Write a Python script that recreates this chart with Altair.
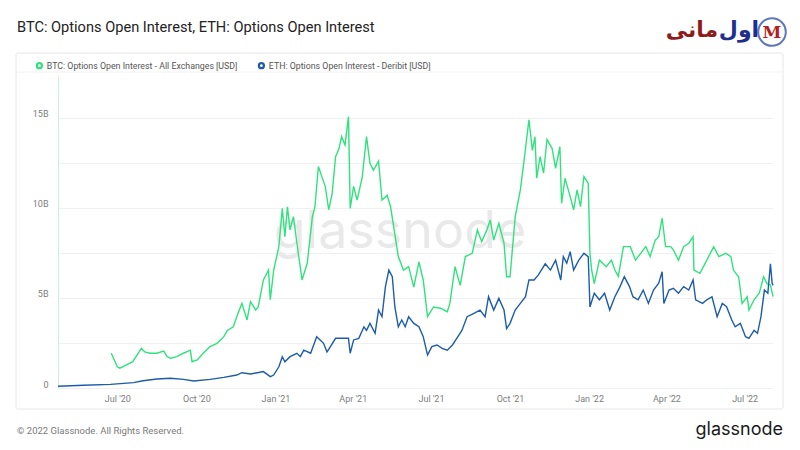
import altair as alt
import pandas as pd

BTC_LABEL = "BTC: Options Open Interest - All Exchanges [USD]"
ETH_LABEL = "ETH: Options Open Interest - Deribit [USD]"

btc_dates = [
    "2020-06-24", "2020-07-01", "2020-07-04", "2020-07-19", "2020-07-29", "2020-08-02", "2020-08-08",
    "2020-08-16", "2020-08-24", "2020-08-28", "2020-09-01", "2020-09-08", "2020-09-16", "2020-09-24",
    "2020-09-26", "2020-10-02", "2020-10-09", "2020-10-17", "2020-10-25", "2020-11-02", "2020-11-06",
    "2020-11-13", "2020-11-17", "2020-11-23", "2020-11-29", "2020-12-03", "2020-12-09", "2020-12-12",
    "2020-12-18", "2020-12-24", "2020-12-26", "2020-12-30", "2021-01-05", "2021-01-09", "2021-01-12",
    "2021-01-15", "2021-01-18", "2021-01-22", "2021-01-26", "2021-02-01", "2021-02-07", "2021-02-13",
    "2021-02-16", "2021-02-20", "2021-02-24", "2021-02-28", "2021-03-04", "2021-03-08", "2021-03-12",
    "2021-03-16", "2021-03-19", "2021-03-23", "2021-03-27", "2021-03-29", "2021-04-02", "2021-04-06",
    "2021-04-12", "2021-04-17", "2021-04-21", "2021-04-25", "2021-05-01", "2021-05-05", "2021-05-11",
    "2021-05-15", "2021-05-18", "2021-05-24", "2021-05-30", "2021-06-05", "2021-06-11", "2021-06-17",
    "2021-06-22", "2021-06-27", "2021-07-04", "2021-07-12", "2021-07-20", "2021-07-23", "2021-07-29",
    "2021-08-04", "2021-08-10", "2021-08-18", "2021-08-24", "2021-08-29", "2021-09-04", "2021-09-08",
    "2021-09-12", "2021-09-18", "2021-09-24", "2021-09-27", "2021-10-01", "2021-10-07", "2021-10-13",
    "2021-10-17", "2021-10-23", "2021-10-27", "2021-10-30", "2021-11-01", "2021-11-05", "2021-11-09",
    "2021-11-13", "2021-11-19", "2021-11-23", "2021-11-28", "2021-11-30", "2021-12-04", "2021-12-10",
    "2021-12-14", "2021-12-18", "2021-12-22", "2021-12-26", "2021-12-31", "2022-01-02", "2022-01-04",
    "2022-01-07", "2022-01-13", "2022-01-21", "2022-01-27", "2022-01-31", "2022-02-04", "2022-02-10",
    "2022-02-18", "2022-02-24", "2022-03-02", "2022-03-08", "2022-03-13", "2022-03-19", "2022-03-23",
    "2022-03-27", "2022-03-31", "2022-04-06", "2022-04-09", "2022-04-15", "2022-04-21", "2022-04-27",
    "2022-05-02", "2022-05-03", "2022-05-10", "2022-05-18", "2022-05-26", "2022-06-01", "2022-06-09",
    "2022-06-15", "2022-06-18", "2022-06-24", "2022-06-28", "2022-07-04", "2022-07-06", "2022-07-12",
    "2022-07-18", "2022-07-23", "2022-07-27", "2022-07-31", "2022-08-03",
]
btc_values = [
    1.93, 1.18, 1.10, 1.46, 2.20, 2.00, 1.93,
    1.93, 2.05, 1.74, 1.65, 1.74, 1.93, 2.10,
    1.46, 1.56, 1.93, 2.30, 2.48, 2.85, 3.20,
    3.40, 3.96, 4.70, 3.78, 4.80, 4.33, 4.50,
    6.00, 6.55, 4.90, 6.55, 7.85, 9.98, 8.40,
    10.07, 8.78, 9.52, 8.04, 6.00, 6.93, 9.50,
    10.07, 12.30, 11.74, 11.20, 9.90, 10.80, 12.85,
    13.30, 13.96, 13.50, 15.07, 9.98, 11.20, 10.44,
    11.70, 13.96, 12.48, 12.10, 12.60, 10.44, 10.70,
    10.07, 9.15, 7.30, 6.55, 6.74, 5.60, 7.00,
    6.00, 3.96, 4.50, 4.43, 4.24, 4.70, 6.74,
    5.70, 7.30, 7.48, 8.78, 8.13, 8.78, 9.33,
    8.22, 9.15, 8.04, 6.18, 6.18, 9.50, 11.00,
    12.50, 14.90, 13.20, 13.96, 11.65, 12.85, 11.93,
    13.80, 13.30, 12.20, 13.40, 10.26, 11.65, 10.63,
    9.90, 11.00, 10.07, 11.74, 11.37, 7.48, 6.55,
    5.80, 7.10, 6.74, 7.10, 6.55, 6.20, 7.85,
    7.85, 7.10, 7.48, 7.85, 7.30, 8.22, 8.40,
    9.43, 7.85, 7.85, 7.67, 7.10, 7.85, 8.04,
    8.40, 6.55, 6.37, 7.10, 7.85, 7.30, 7.48,
    7.30, 6.55, 6.18, 4.70, 5.07, 4.33, 4.90,
    5.26, 6.18, 5.80, 5.72, 5.07,
]

eth_dates = [
    "2020-04-23", "2020-05-23", "2020-06-23", "2020-07-20", "2020-07-31", "2020-08-16", "2020-09-01",
    "2020-09-16", "2020-09-28", "2020-10-17", "2020-11-02", "2020-11-17", "2020-11-23", "2020-12-03",
    "2020-12-11", "2020-12-18", "2020-12-26", "2020-12-30", "2021-01-05", "2021-01-09", "2021-01-12",
    "2021-01-18", "2021-01-26", "2021-01-30", "2021-02-03", "2021-02-11", "2021-02-18", "2021-02-22",
    "2021-02-26", "2021-03-02", "2021-03-06", "2021-03-12", "2021-03-17", "2021-03-23", "2021-03-27",
    "2021-03-29", "2021-04-02", "2021-04-08", "2021-04-14", "2021-04-17", "2021-04-21", "2021-04-27",
    "2021-05-01", "2021-05-05", "2021-05-09", "2021-05-13", "2021-05-17", "2021-05-20", "2021-05-24",
    "2021-05-28", "2021-06-01", "2021-06-05", "2021-06-11", "2021-06-17", "2021-06-22", "2021-06-27",
    "2021-07-02", "2021-07-08", "2021-07-14", "2021-07-20", "2021-07-26", "2021-07-31", "2021-08-06",
    "2021-08-12", "2021-08-20", "2021-08-27", "2021-09-02", "2021-09-06", "2021-09-12", "2021-09-18",
    "2021-09-24", "2021-09-27", "2021-10-01", "2021-10-07", "2021-10-13", "2021-10-19", "2021-10-23",
    "2021-10-29", "2021-11-03", "2021-11-11", "2021-11-17", "2021-11-23", "2021-11-29", "2021-12-02",
    "2021-12-06", "2021-12-10", "2021-12-14", "2021-12-20", "2021-12-26", "2021-12-31", "2022-01-02",
    "2022-01-07", "2022-01-13", "2022-01-19", "2022-01-25", "2022-01-31", "2022-02-06", "2022-02-11",
    "2022-02-17", "2022-02-21", "2022-02-27", "2022-03-05", "2022-03-11", "2022-03-17", "2022-03-23",
    "2022-03-27", "2022-03-29", "2022-04-04", "2022-04-09", "2022-04-15", "2022-04-21", "2022-04-27",
    "2022-05-02", "2022-05-05", "2022-05-13", "2022-05-18", "2022-05-24", "2022-05-30", "2022-06-05",
    "2022-06-10", "2022-06-16", "2022-06-20", "2022-06-26", "2022-07-02", "2022-07-06", "2022-07-12",
    "2022-07-16", "2022-07-20", "2022-07-24", "2022-07-28", "2022-07-31", "2022-08-02", "2022-08-03",
]
eth_values = [
    0.10, 0.15, 0.20, 0.30, 0.40, 0.50, 0.54,
    0.48, 0.39, 0.48, 0.59, 0.72, 0.85, 0.78,
    0.85, 0.91, 0.63, 0.72, 1.18, 1.74, 1.46,
    1.74, 1.93, 1.74, 2.10, 1.93, 2.85, 2.67,
    2.48, 2.00, 2.30, 2.76, 2.76, 2.76, 2.76,
    1.93, 2.67, 2.76, 3.40, 3.20, 3.59, 3.04,
    4.33, 3.96, 5.63, 6.55, 6.18, 4.50, 3.40,
    3.78, 3.40, 3.96, 3.59, 3.40, 2.85, 1.83,
    2.30, 2.39, 2.20, 2.10, 2.39, 2.76, 3.20,
    3.96, 4.15, 4.33, 3.96, 5.07, 4.33, 4.98,
    4.33, 3.30, 3.59, 4.33, 4.70, 5.07, 6.00,
    6.00, 6.28, 6.90, 6.55, 7.10, 6.00, 7.30,
    6.93, 7.57, 6.55, 7.10, 7.48, 7.30, 4.50,
    5.26, 4.90, 5.26, 4.33, 5.07, 5.63, 6.18,
    5.63, 5.07, 4.90, 5.44, 4.70, 5.44, 5.82,
    6.46, 4.70, 5.44, 5.54, 5.26, 5.63, 5.44,
    6.00, 4.90, 4.70, 4.90, 5.07, 3.96, 4.70,
    4.52, 3.78, 3.40, 3.59, 2.85, 2.76, 3.20,
    3.04, 3.96, 5.44, 5.26, 6.90, 5.82, 5.70,
]

y_ticks = [0, 2.5, 5, 7.5, 10, 12.5, 15]
x_tick_months = [(2020, 7), (2020, 10), (2021, 1), (2021, 4), (2021, 7),
                 (2021, 10), (2022, 1), (2022, 4), (2022, 7)]

GREEN = "#30e27d"
BLUE = "#1c5ca8"
FONT = "Roboto"
W, H = 715, 312

df = pd.concat([
    pd.DataFrame({"series": BTC_LABEL, "date": btc_dates, "value": btc_values}),
    pd.DataFrame({"series": ETH_LABEL, "date": eth_dates, "value": eth_values}),
], ignore_index=True)

x_scale = alt.Scale(
    type="utc",
    domain=[alt.DateTime(year=2020, month=4, date=23, utc=True),
            alt.DateTime(year=2022, month=8, date=3, utc=True)],
)
x_axis = alt.Axis(
    values=[alt.DateTime(year=y, month=m, date=1, utc=True) for y, m in x_tick_months],
    format="%b '%y", grid=False, ticks=False, domain=False, labelPadding=6,
    labelFontSize=9, labelColor="#7d7d7d", labelFont=FONT, title=None,
)
y_axis = alt.Axis(
    values=y_ticks,
    labelExpr="datum.value == 0 ? '0' : (datum.value % 5 == 0 ? datum.value + 'B' : '')",
    grid=True, gridColor="#f0f0f0", domainColor="#c8f2da", ticks=False,
    labelPadding=10, labelFontSize=9, labelColor="#7d7d7d", labelFont=FONT,
    labelOffset=-4, title=None,
)

lines = alt.Chart(df).mark_line(strokeWidth=1.4).encode(
    x=alt.X("date:T", scale=x_scale, axis=x_axis),
    y=alt.Y("value:Q", scale=alt.Scale(domain=[0, 17.33], nice=False, zero=True), axis=y_axis),
    color=alt.Color(
        "series:N",
        scale=alt.Scale(domain=[BTC_LABEL, ETH_LABEL], range=[GREEN, BLUE]),
        legend=alt.Legend(
            orient="none", legendX=-23, legendY=-15, direction="horizontal", title=None,
            symbolType="circle", symbolSize=5, symbolStrokeWidth=5,
            labelFontSize=8.8, labelColor="#555555",
            labelFont=FONT, columnPadding=12, padding=0, labelLimit=0, labelOffset=3,
        ),
    ),
)

dummy = alt.Data(values=[{"k": 1}])


def label(txt, x, y, size, color, align="left", weight="normal", font=FONT):
    return alt.Chart(dummy).mark_text(
        text=txt, align=align, baseline="middle", fontSize=size, color=color,
        fontWeight=weight, font=font,
    ).encode(x=alt.value(x), y=alt.value(y))


card = alt.Chart(dummy).mark_rect(
    fillOpacity=0, stroke="#e6e6e6", strokeWidth=1, cornerRadius=2
).encode(x=alt.value(-42), x2=alt.value(725), y=alt.value(-23), y2=alt.value(333))

sep = alt.Chart(dummy).mark_rule(color="#f2f2f2", strokeWidth=1).encode(
    x=alt.value(-41), x2=alt.value(724), y=alt.value(-4)
)

watermark = label("glassnode", 342, 156, 52, "#e9e9e9", align="center", font="Inter")
title = label("BTC: Options Open Interest, ETH: Options Open Interest", -41, -48, 14.6, "#222222")
footer = label("© 2022 Glassnode. All Rights Reserved.", -41, 355, 9.5, "#7a7a7a")
brand = label("glassnode", 725, 354, 18, "#1a1a1a", align="right", font="Inter")

logo_red = label("مانی", 634, -46, 22, "#8e1b1b", align="center", weight="bold", font="DejaVu Sans")
logo_blue = label("اول", 681, -46, 22, "#1e2f8f", align="center", weight="bold", font="DejaVu Sans")
logo_ring = alt.Chart(dummy).mark_point(
    shape="circle", size=760, filled=False, stroke="#1e3f9a", strokeWidth=2
).encode(x=alt.value(714), y=alt.value(-44))
logo_m = label("M", 714, -43, 17, "#b01e1e", align="center", weight="bold", font="DejaVu Serif")

chart = alt.layer(
    card, sep, watermark, lines, title, footer, brand, logo_red, logo_blue, logo_ring, logo_m
).properties(
    width=W, height=H,
    padding={"left": 50, "top": 68, "right": 19, "bottom": 54},
    autosize=alt.AutoSizeParams(type="none"),
    background="white",
).configure_view(stroke=None)

chart.save("out.html", embed_options={"renderer": "svg", "actions": False})
